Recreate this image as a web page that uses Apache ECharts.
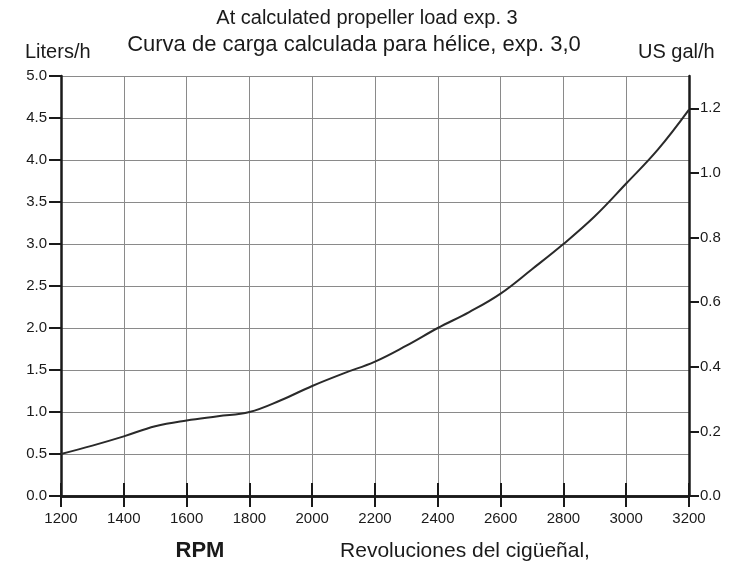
<!DOCTYPE html>
<html>
<head>
<meta charset="utf-8">
<script src="https://cdn.jsdelivr.net/npm/echarts@6/dist/echarts.min.js"></script>
<style>html,body{margin:0;padding:0;background:#fff}#c{width:737px;height:566px}</style>
</head>
<body>
<div id="c"></div>
<script>
var rpm = [1200,1300,1400,1500,1600,1700,1800,1900,2000,2100,2200,2300,2400,2500,2600,2700,2800,2900,3000,3100,3200];
var litersPerHour = [0.50,0.60,0.71,0.83,0.90,0.95,1.00,1.14,1.31,1.46,1.60,1.79,2.00,2.19,2.41,2.70,3.00,3.33,3.72,4.12,4.60];
var xTicks = [1200,1400,1600,1800,2000,2200,2400,2600,2800,3000,3200];
var leftTicks = [0,0.5,1,1.5,2,2.5,3,3.5,4,4.5,5];
var rightTicks = [0,0.2,0.4,0.6,0.8,1.0,1.2];

var FONT = '"Liberation Sans", Arial, sans-serif';
var chart = echarts.init(document.getElementById('c'), null, {renderer: 'canvas'});
var axisBlack = {lineStyle: {color: '#1a1a1a', width: 2.5}};
chart.setOption({
  animation: false,
  backgroundColor: '#fff',
  grid: {left: 61, right: 48, top: 76, bottom: 70, containLabel: false},
  graphic: [
    {type: 'text', x: 367, y: 18, style: {text: 'At calculated propeller load exp. 3', font: '20px ' + FONT, fill: '#1a1a1a', textAlign: 'center', textVerticalAlign: 'middle'}},
    {type: 'text', x: 354, y: 45, style: {text: 'Curva de carga calculada para hélice, exp. 3,0', font: '22px ' + FONT, fill: '#1a1a1a', textAlign: 'center', textVerticalAlign: 'middle'}},
    {type: 'text', x: 25, y: 52, style: {text: 'Liters/h', font: '20px ' + FONT, fill: '#1a1a1a', textAlign: 'left', textVerticalAlign: 'middle'}},
    {type: 'text', x: 638, y: 52, style: {text: 'US gal/h', font: '20px ' + FONT, fill: '#1a1a1a', textAlign: 'left', textVerticalAlign: 'middle'}},
    {type: 'text', x: 200, y: 551, style: {text: 'RPM', font: 'bold 22px ' + FONT, fill: '#1a1a1a', textAlign: 'center', textVerticalAlign: 'middle'}},
    {type: 'text', x: 465, y: 551, style: {text: 'Revoluciones del cigüeñal,', font: '21px ' + FONT, fill: '#1a1a1a', textAlign: 'center', textVerticalAlign: 'middle'}}
  ],
  xAxis: [
    {type: 'value', position: 'bottom', min: xTicks[0], max: xTicks[xTicks.length-1], interval: 200,
     axisLine: axisBlack, axisTick: {show: true, inside: false, length: 11, lineStyle: {color: '#1a1a1a', width: 2}},
     axisLabel: {margin: 15, fontSize: 15, fontFamily: FONT, color: '#1a1a1a', formatter: function(v){return String(v);}},
     splitLine: {show: true, lineStyle: {color: '#8a8a8a', width: 1}}},
    {type: 'value', position: 'top', min: xTicks[0], max: xTicks[xTicks.length-1], interval: 200,
     axisLine: axisBlack, axisTick: {show: true, inside: false, length: 13, lineStyle: {color: '#1a1a1a', width: 2}},
     axisLabel: {show: false}, splitLine: {show: false}}
  ],
  yAxis: [
    {type: 'value', position: 'left', min: 0, max: 5, interval: 0.5,
     axisLine: {show: true, lineStyle: {color: '#1a1a1a', width: 2.5}},
     axisTick: {show: true, inside: false, length: 12, lineStyle: {color: '#1a1a1a', width: 2}},
     axisLabel: {margin: 14, fontSize: 15, fontFamily: FONT, color: '#1a1a1a', formatter: function(v){return v.toFixed(1);}},
     splitLine: {show: true, lineStyle: {color: '#8a8a8a', width: 1}}},
    {type: 'value', position: 'right', min: 0, max: 1.3, interval: 0.2,
     axisLine: {show: true, lineStyle: {color: '#1a1a1a', width: 2.5}},
     axisTick: {show: true, inside: false, length: 10, lineStyle: {color: '#1a1a1a', width: 2}},
     axisLabel: {margin: 11, fontSize: 15, fontFamily: FONT, color: '#1a1a1a', showMaxLabel: false, formatter: function(v){return v.toFixed(1);}},
     splitLine: {show: false}}
  ],
  series: [{
    type: 'line', xAxisIndex: 0, yAxisIndex: 0, smooth: 0.4, symbol: 'none',
    lineStyle: {color: '#2a2a2a', width: 2},
    data: rpm.map(function(r, i){return [r, litersPerHour[i]];})
  }]
});
</script>
</body>
</html>
